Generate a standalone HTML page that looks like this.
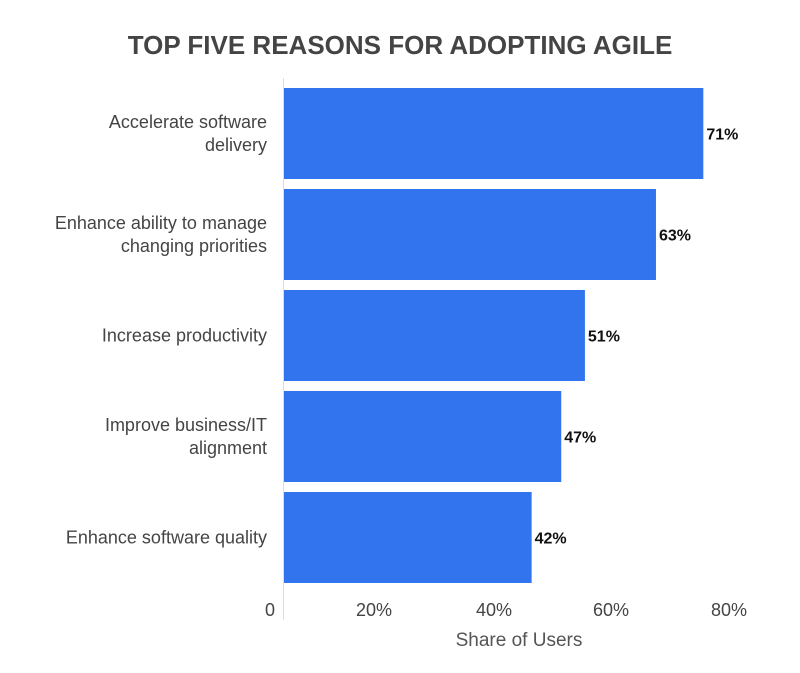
<!DOCTYPE html>
<html><head><meta charset="utf-8"><style>
body{margin:0;background:#fff;font-family:"Liberation Sans",sans-serif}
</style></head><body>
<svg width="800" height="668" xmlns="http://www.w3.org/2000/svg">
<rect width="800" height="668" fill="#fff"/>
<text x="400" y="54" text-anchor="middle" font-size="26" font-weight="bold" fill="#444">TOP FIVE REASONS FOR ADOPTING AGILE</text>
<line x1="283.5" y1="78" x2="283.5" y2="620" stroke="#ddd" stroke-width="1"/>
<g id="bars"></g>
<g font-size="18" fill="#444">
<text x="270" y="616" text-anchor="middle">0</text>
<text x="374" y="616" text-anchor="middle">20%</text>
<text x="494" y="616" text-anchor="middle">40%</text>
<text x="611" y="616" text-anchor="middle">60%</text>
<text x="729" y="616" text-anchor="middle">80%</text>
</g>
<text x="519" y="646" text-anchor="middle" font-size="19" fill="#555">Share of Users</text>
</svg>
<script>
const categories=[["Accelerate software","delivery"],["Enhance ability to manage","changing priorities"],["Increase productivity"],["Improve business/IT","alignment"],["Enhance software quality"]];
const values=[71,63,51,47,42];
const x0=283, pxPer=5.92, top0=88, step=101, bh=91;
const xs=v=>x0+v*pxPer;
const g=document.getElementById('bars');
const NS='http://www.w3.org/2000/svg';
values.forEach((v,i)=>{
  const y=top0+i*step;
  const r=document.createElementNS(NS,'rect');
  r.setAttribute('x',x0+1);r.setAttribute('y',y);
  r.setAttribute('width',xs(v)-x0-1);r.setAttribute('height',bh);
  r.setAttribute('fill','#3174ed');
  
  
  g.appendChild(r);
  const t=document.createElementNS(NS,'text');
  t.setAttribute('x',xs(v)+3);t.setAttribute('y',y+bh/2+6);
  t.setAttribute('font-size','16');t.setAttribute('font-weight','bold');t.setAttribute('fill','#111');
  t.textContent=v+'%';
  
  
  g.appendChild(t);
  const lines=categories[i];
  const cy=y+bh/2;
  lines.forEach((ln,j)=>{
    const l=document.createElementNS(NS,'text');
    l.setAttribute('x',267);
    l.setAttribute('y',cy+6+(j-(lines.length-1)/2)*23);
    l.setAttribute('text-anchor','end');l.setAttribute('font-size','18');l.setAttribute('fill','#444');
    l.textContent=ln;
    
    
    g.appendChild(l);
  });
});
</script>
</body></html>
